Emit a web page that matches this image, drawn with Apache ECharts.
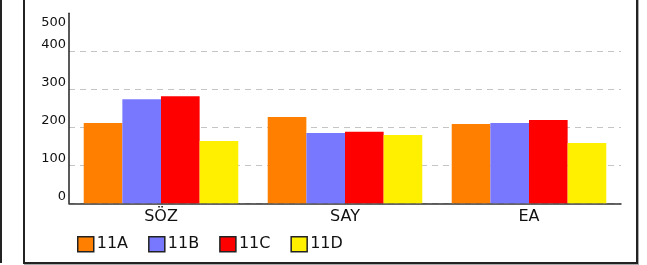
<!DOCTYPE html>
<html>
<head>
<meta charset="utf-8">
<script src="https://cdn.jsdelivr.net/npm/echarts@6/dist/echarts.min.js"></script>
<style>
    html, body { margin: 0; padding: 0; background: #ffffff; }
    #outer { position: absolute; left: 0; top: -10px; width: 1px; height: 273px; border-left: 2px solid #222; }
    #frame { position: absolute; left: 23px; top: -10px; width: 611px; height: 270px; border: 2px solid #222; box-shadow: 1px 1px 0 #aaa; }
    #chart-container { position: absolute; left: 0; top: 0; width: 647px; height: 265px; }
</style>
</head>
<body>
<div id="outer"></div>
<div id="frame"></div>
<div id="chart-container"></div>
<script>
const categories = ['SÖZ', 'SAY', 'EA'];
const seriesNames = ['11A', '11B', '11C', '11D'];
const values11A = [211, 227, 209];
const values11B = [274, 185, 211];
const values11C = [282, 188, 219];
const values11D = [164, 180, 159];
const yTicks = [0, 100, 200, 300, 400, 500];

const colors = ['#ff8000', '#7878ff', '#ff0000', '#fff000'];
const fontFamily = 'DejaVu Sans';

const chartContainer = document.getElementById('chart-container');
const myChart = echarts.init(chartContainer);

const allValues = [values11A, values11B, values11C, values11D];

const options = {
    animation: false,
    backgroundColor: 'transparent',
    grid: {
        left: 69,
        right: 26,
        top: 13.3,
        bottom: 61.7
    },
    legend: {
        left: 77,
        top: 236,
        padding: 0,
        icon: 'rect',
        itemWidth: 16,
        itemHeight: 15,
        itemGap: 20,
        itemStyle: { borderColor: '#222', borderWidth: 1.5 },
        textStyle: {
            fontFamily: fontFamily,
            fontSize: 16,
            color: '#111',
            padding: [0, 0, 0, -2]
        },
        data: seriesNames
    },
    xAxis: {
        type: 'category',
        data: categories,
        axisLine: {
            lineStyle: { color: '#333', width: 1.5 }
        },
        axisTick: { show: false },
        axisLabel: {
            fontFamily: fontFamily,
            fontSize: 16,
            color: '#111',
            margin: 6
        }
    },
    yAxis: [{
        type: 'value',
        min: 0,
        max: 500,
        interval: 100,
        axisLine: {
            show: true,
            lineStyle: { color: '#222', width: 1.5 }
        },
        axisTick: { show: false },
        axisLabel: {
            fontFamily: fontFamily,
            fontSize: 13,
            color: '#111',
            margin: 3,
            verticalAlign: 'bottom',
            formatter: function (value) {
                return value === yTicks[yTicks.length - 1] ? '' : String(value);
            }
        },
        splitLine: {
            show: true,
            showMaxLine: false,
            lineStyle: { color: '#c4c4c4', type: [6, 5], width: 1 }
        }
    }, {
        // only carries the top label, which sits below its tick
        type: 'value',
        position: 'left',
        min: 0,
        max: 500,
        interval: 500,
        axisLine: { show: false },
        axisTick: { show: false },
        splitLine: { show: false },
        axisLabel: {
            fontFamily: fontFamily,
            fontSize: 13,
            lineHeight: 18,
            color: '#111',
            margin: 3,
            verticalAlign: 'top',
            formatter: function (value) {
                return value === yTicks[yTicks.length - 1] ? String(value) : '';
            }
        }
    }],
    series: seriesNames.map((name, i) => ({
        name: name,
        type: 'bar',
        barGap: 0,
        barCategoryGap: '16%',
        itemStyle: { color: colors[i] },
        data: allValues[i]
    }))
};

myChart.setOption(options);
</script>
</body>
</html>
